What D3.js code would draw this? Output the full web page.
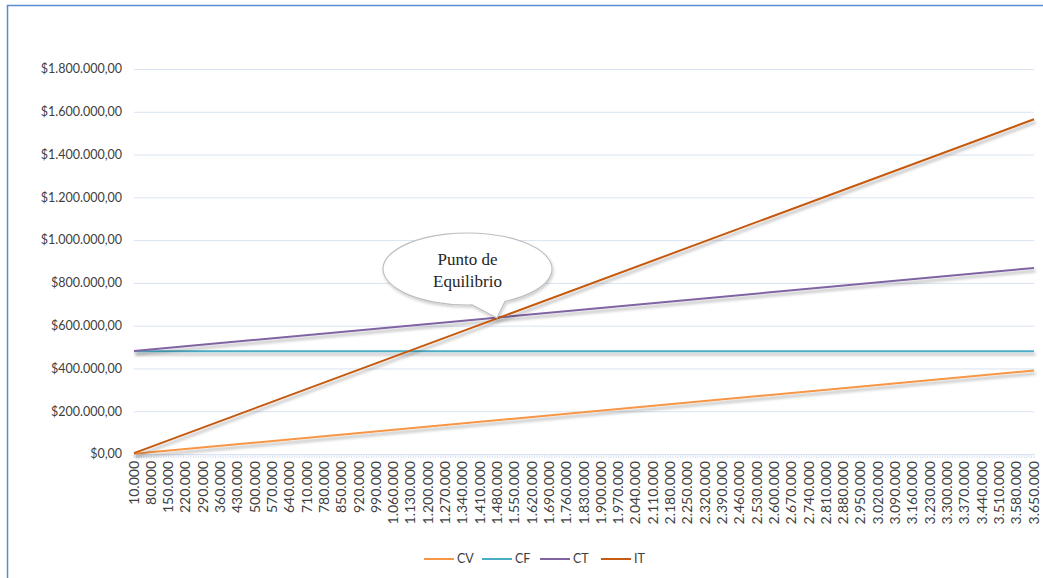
<!DOCTYPE html>
<html>
<head>
<meta charset="utf-8">
<script src="https://cdn.jsdelivr.net/npm/d3@7"></script>
<style>
  body { margin: 0; background: #fff; }
  svg { display: block; }
</style>
</head>
<body>
<svg id="chart" width="1043" height="578"></svg>
<script>
// data
const seriesNames = ["CV", "CF", "CT", "IT"]
const seriesColors = ["#f79646", "#4bacc6", "#8064a2", "#c55a11"]
// each series: values at first and last category (straight lines)
const pointUnits = [10000, 3650000]
const cvValues = [1100, 390000]
const cfValues = [480000, 480000]
const ctValues = [481100, 870000]
const itValues = [4300, 1565000]
const yTicks = [0, 200000, 400000, 600000, 800000, 1000000, 1200000, 1400000, 1600000, 1800000]
const xTickLabels = [10000, 80000, 150000, 220000, 290000, 360000, 430000, 500000, 570000, 640000,
  710000, 780000, 850000, 920000, 990000, 1060000, 1130000, 1200000, 1270000, 1340000,
  1410000, 1480000, 1550000, 1620000, 1690000, 1760000, 1830000, 1900000, 1970000, 2040000,
  2110000, 2180000, 2250000, 2320000, 2390000, 2460000, 2530000, 2600000, 2670000, 2740000,
  2810000, 2880000, 2950000, 3020000, 3090000, 3160000, 3230000, 3300000, 3370000, 3440000,
  3510000, 3580000, 3650000]
const calloutText = ["Punto de", "Equilibrio"]

const svg = d3.select("#chart")

// outer frame
svg.append("rect")
  .attr("x", 7.5).attr("y", 5.5)
  .attr("width", 1060).attr("height", 600)
  .attr("fill", "none")
  .attr("stroke", "#5b8bd0")
  .attr("stroke-width", 1.5)

const plotLeft = 134, plotRight = 1034, plotTop = 69, plotBottom = 454

const x = d3.scaleLinear().domain([10000, 3650000]).range([plotLeft, plotRight])
const y = d3.scaleLinear().domain([0, 1800000]).range([plotBottom, plotTop])

// shadow filters (user space so flat lines keep their shadow)
const defs = svg.append("defs")
const f = defs.append("filter").attr("id", "shadow")
  .attr("filterUnits", "userSpaceOnUse")
  .attr("x", 0).attr("y", 0).attr("width", 1043).attr("height", 578)
f.append("feDropShadow")
  .attr("dx", 1.5).attr("dy", 3).attr("stdDeviation", 1.6)
  .attr("flood-color", "#000").attr("flood-opacity", 0.3)
const cs = defs.append("filter").attr("id", "cshadow")
cs.append("feDropShadow").attr("dx", 1).attr("dy", 2).attr("stdDeviation", 1.5)
  .attr("flood-color", "#000").attr("flood-opacity", 0.2)

const loc = d3.formatLocale({decimal: ",", thousands: ".", grouping: [3], currency: ["$", ""]})
const money = loc.format("$,.2f")
const units = loc.format(",d")

// gridlines
svg.append("g")
  .selectAll("line")
  .data(yTicks.slice(1))
  .join("line")
  .attr("x1", plotLeft).attr("x2", plotRight)
  .attr("y1", d => y(d) + 0.5).attr("y2", d => y(d) + 0.5)
  .attr("stroke", "#d9e3f1").attr("stroke-width", 1)

// y labels
svg.append("g")
  .selectAll("text")
  .data(yTicks)
  .join("text")
  .attr("x", 122)
  .attr("y", d => y(d))
  .attr("dy", "0.35em")
  .attr("text-anchor", "end")
  .style("font-family", "Lato, 'Open Sans', sans-serif")
  .style("font-size", "12.5px")
  .style("fill", "#404040")
  .text(d => money(d))

// x axis with small ticks per category
const catTicks = d3.range(10000, 3650001, 10000)
const xAxis = svg.append("g")
xAxis.append("line")
  .attr("x1", plotLeft).attr("x2", plotRight)
  .attr("y1", plotBottom + 0.5).attr("y2", plotBottom + 0.5)
  .attr("stroke", "#d9e3f1")
xAxis.selectAll("line.tk")
  .data(catTicks)
  .join("line")
  .attr("class", "tk")
  .attr("x1", d => x(d)).attr("x2", d => x(d))
  .attr("y1", plotBottom).attr("y2", plotBottom + 4)
  .attr("stroke", "#d9e3f1").attr("stroke-width", 1)

xAxis.selectAll("text")
  .data(xTickLabels)
  .join("text")
  .attr("transform", d => `translate(${x(d) + 4.5},${plotBottom + 7}) rotate(-90)`)
  .attr("text-anchor", "end")
  .style("font-family", "Lato, 'Open Sans', sans-serif")
  .style("font-size", "14px")
  .style("fill", "#404040")
  .text(d => units(d))

// lines
const allValues = [cvValues, cfValues, ctValues, itValues]
const line = d3.line().x(d => x(d[0])).y(d => y(d[1]))
svg.append("g")
  .selectAll("path")
  .data(allValues)
  .join("path")
  .attr("d", v => line(pointUnits.map((u, i) => [u, v[i]])))
  .attr("fill", "none")
  .attr("stroke", (d, i) => seriesColors[i])
  .attr("stroke-width", 2)
  .attr("filter", "url(#shadow)")

// callout
const tip = [497, 318]
const cx = 467.5, cy = 269, rx = 84.5, ry = 36
function ePt(a) { return [cx + rx * Math.cos(a), cy + ry * Math.sin(a)] }
const p1 = ePt(Math.acos((505 - cx) / rx)), p2 = ePt(Math.acos((472 - cx) / rx))
const call = svg.append("g")
call.append("path")
  .attr("d", `M${p1[0]},${p1[1]} A${rx},${ry} 0 1 0 ${p2[0]},${p2[1]} L${tip[0]},${tip[1]} Z`)
  .attr("fill", "#fff")
  .attr("stroke", "#bfbfbf")
  .attr("stroke-width", 1.2)
  .attr("filter", "url(#cshadow)")
call.selectAll("text")
  .data(calloutText)
  .join("text")
  .attr("x", cx)
  .attr("y", (d, i) => 265 + i * 22)
  .attr("text-anchor", "middle")
  .style("font-family", "'Liberation Serif', 'Times New Roman', serif")
  .style("font-size", "17px")
  .style("fill", "#262626")
  .text(d => d)

// legend
const legendX = [424, 482, 540, 601]
const leg = svg.append("g")
  .selectAll("g")
  .data(seriesNames)
  .join("g")
  .attr("transform", (d, i) => `translate(${legendX[i]},559)`)
leg.append("line")
  .attr("x1", 0).attr("x2", 30)
  .attr("stroke", (d, i) => seriesColors[i])
  .attr("stroke-width", 2)
leg.append("text")
  .attr("x", 33).attr("dy", "0.35em")
  .style("font-family", "Lato, 'Open Sans', sans-serif")
  .style("font-size", "12.5px")
  .style("fill", "#404040")
  .text(d => d)
</script>
</body>
</html>
